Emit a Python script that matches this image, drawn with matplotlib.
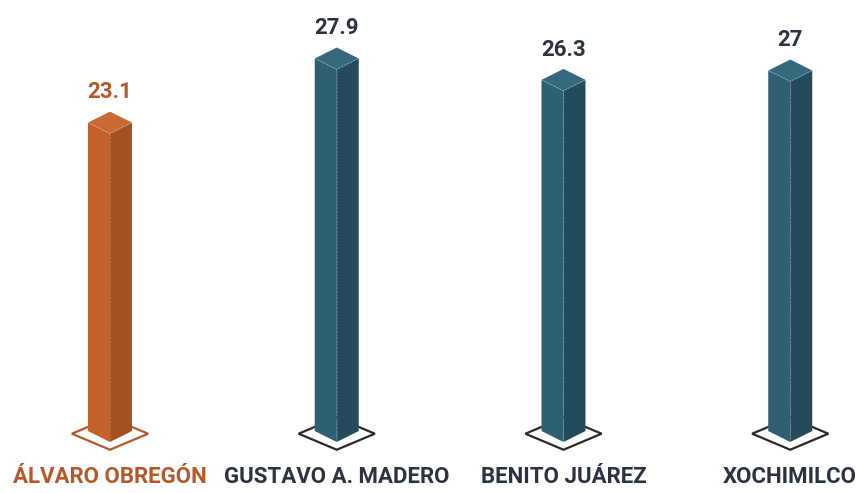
import matplotlib.pyplot as plt
from matplotlib.patches import Polygon

# datos
alcaldias = ['ÁLVARO OBREGÓN', 'GUSTAVO A. MADERO', 'BENITO JUÁREZ', 'XOCHIMILCO']
valores = [23.1, 27.9, 26.3, 27]
etiquetas = ['23.1', '27.9', '26.3', '27']

# colores (frente, lado, tapa, base, texto)
naranja = ('#C2622A', '#A4511F', '#C86A32', '#B5592A', '#B5592A')
azul = ('#2F5F73', '#244B5B', '#356A7E', '#2a2a2a', '#2B3340')
estilos = [naranja, azul, azul, azul]

fuente = ['Roboto', 'DejaVu Sans']

fig = plt.figure(figsize=(8.56, 4.93), dpi=100)
ax = fig.add_axes([0, 0, 1, 1])
ax.set_xlim(-0.485, 3.29)
ax.set_ylim(-3.82, 33.1)
ax.axis('off')

w = 0.097   # media anchura del prisma (unidades x)
d = 0.82    # profundidad de la tapa (unidades y)
bw, bh, bc = 0.168, 1.2, 0.62  # rombo de la base

for i, (nombre, v, txt, col) in enumerate(zip(alcaldias, valores, etiquetas, estilos)):
    frente, lado, tapa, base, ctexto = col
    # rombo de la base
    ax.add_patch(Polygon([(i - bw, bc), (i, bc + bh), (i + bw, bc), (i, bc - bh)],
                         closed=True, facecolor='white', edgecolor=base, lw=1.6, zorder=1))
    # caras
    ax.add_patch(Polygon([(i - w, d), (i - w, v + d), (i, v), (i, 0)],
                         closed=True, facecolor=frente, edgecolor='none', zorder=2))
    ax.add_patch(Polygon([(i, 0), (i, v), (i + w, v + d), (i + w, d)],
                         closed=True, facecolor=lado, edgecolor='none', zorder=2))
    ax.add_patch(Polygon([(i - w, v + d), (i, v + 2 * d), (i + w, v + d), (i, v)],
                         closed=True, facecolor=tapa, edgecolor='none', zorder=3))
    # aristas claras
    ax.plot([i - w, i, i + w], [v + d, v, v + d], color='white', lw=0.6,
            alpha=0.35, ls=(0, (2, 2)), zorder=4)
    ax.plot([i, i], [0, v], color='white', lw=0.6, alpha=0.25, ls=(0, (2, 2)), zorder=4)

    ax.annotate(txt, (i, v + 2 * d), xytext=(0, 6), textcoords='offset points',
                ha='center', va='bottom', fontsize=16, fontweight='bold',
                color=ctexto, family=fuente)
    ax.text(i, -2.65, nombre, ha='center', va='center', fontsize=16,
            fontweight='bold', color=ctexto, family=fuente)

plt.savefig('out.png', dpi=100)
